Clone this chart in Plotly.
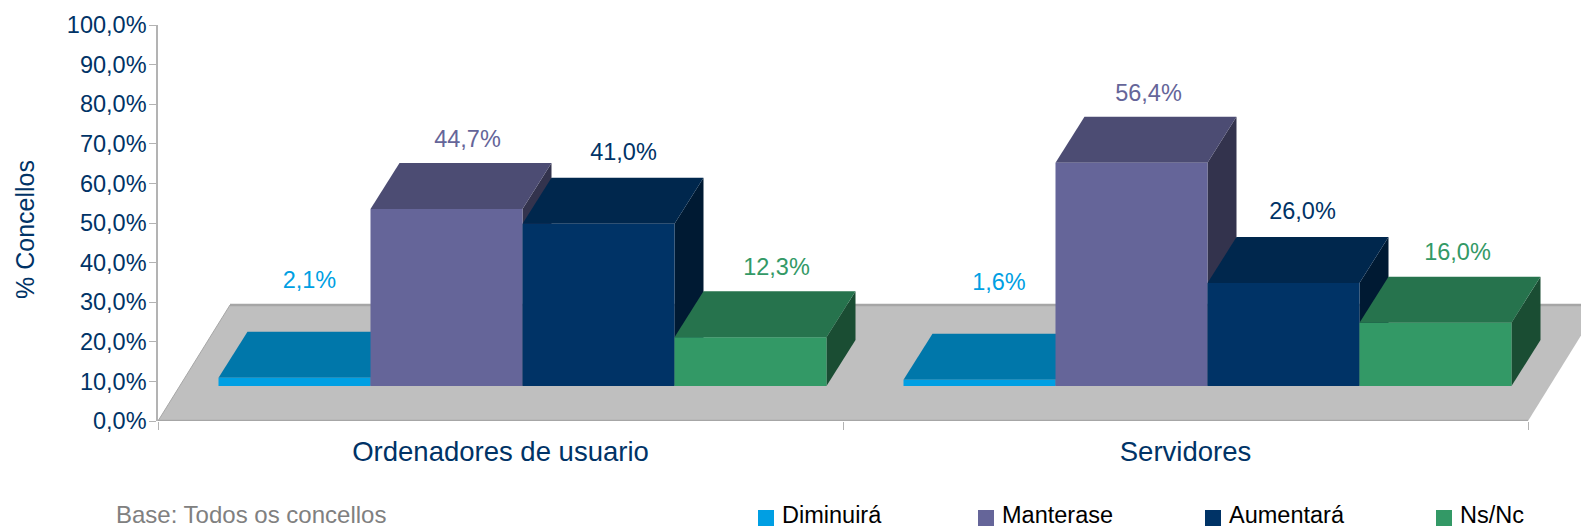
import plotly.graph_objects as go

# ---- data ----
categories = ["Ordenadores de usuario", "Servidores"]
series_names = ["Diminuirá", "Manterase", "Aumentará", "Ns/Nc"]
diminuira = [2.1, 1.6]
manterase = [44.7, 56.4]
aumentara = [41.0, 26.0]
ns_nc = [12.3, 16.0]
y_ticks = [0, 10, 20, 30, 40, 50, 60, 70, 80, 90, 100]
y_tick_labels = ["0,0%", "10,0%", "20,0%", "30,0%", "40,0%", "50,0%", "60,0%", "70,0%", "80,0%", "90,0%", "100,0%"]

# ---- style ----
front_colors = ["#009FE3", "#656599", "#003366", "#339966"]
top_colors = ["#0077AA", "#4C4C73", "#00274D", "#26734D"]
side_colors = ["#005F88", "#33334D", "#001A33", "#1A4D33"]
TEXT = "#003366"
FONT = "Liberation Sans"
W, H = 1581, 528
L, T, B = 158, 25, 107
PX_X = 685.0            # pixels per category
PX_Y = (H - T - B) / 100.0   # pixels per percentage point

BAR_W = 152 / PX_X
GROUP_OFF = 22 / PX_X   # front plane offset along the floor
BASE = 35 / PX_Y
DX, DY = 29 / PX_X, 46 / PX_Y          # bar depth
FLOOR_DX, FLOOR_DY = 72 / PX_X, 116 / PX_Y
label_dx = [[15, 21, 25, 26], [19.5, 17, 19, 22]]   # px
label_gap = [50, 22, 24, 22.5]                      # px above back edge

all_values = [diminuira, manterase, aumentara, ns_nc]
fig = go.Figure()


def px_x(p):
    return (p - L) / (W - L)


def px_y(p):
    return (H - B - p) / (H - T - B)


# floor
xmax = (W - L) / PX_X
fig.add_trace(go.Scatter(x=[0, 2, 2 + FLOOR_DX, FLOOR_DX, 0], y=[0, 0, FLOOR_DY, FLOOR_DY, 0],
                         mode="lines", fill="toself", fillcolor="#BFBFBF", line=dict(width=0),
                         hoverinfo="skip", showlegend=False))
fig.add_trace(go.Scatter(x=[0, 2, None, FLOOR_DX, 2 + FLOOR_DX], y=[0, 0, None, FLOOR_DY, FLOOR_DY],
                         mode="lines", line=dict(color="#A6A6A6", width=2.5),
                         hoverinfo="skip", showlegend=False, cliponaxis=False))
fig.add_trace(go.Scatter(x=[0, FLOOR_DX], y=[0, FLOOR_DY], mode="lines",
                         line=dict(color="#A6A6A6", width=1), hoverinfo="skip", showlegend=False))

# 3D faces, painted back to front, left to right
for g in range(len(categories)):
    for s, vals in enumerate(all_values):
        x0 = g + 0.5 + GROUP_OFF + (s - 2) * BAR_W
        x1 = x0 + BAR_W
        top = BASE + vals[g]
        fig.add_trace(go.Scatter(x=[x1, x1 + DX, x1 + DX, x1, x1], y=[BASE, BASE + DY, top + DY, top, BASE],
                                 mode="lines", fill="toself", fillcolor=side_colors[s], line=dict(width=0),
                                 hoverinfo="skip", showlegend=False))
        fig.add_trace(go.Scatter(x=[x0, x1, x1 + DX, x0 + DX, x0], y=[top, top, top + DY, top + DY, top],
                                 mode="lines", fill="toself", fillcolor=top_colors[s], line=dict(width=0),
                                 hoverinfo="skip", showlegend=False))

# front faces, on an overlaid pair of axes so that they paint above the faces
for s, vals in enumerate(all_values):
    xs = [g + 0.5 + GROUP_OFF + (s - 1.5) * BAR_W for g in range(len(categories))]
    fig.add_trace(go.Bar(x=xs, y=vals, base=[BASE] * len(vals), width=BAR_W, name=series_names[s],
                         marker=dict(color=front_colors[s], line=dict(width=0)),
                         xaxis="x2", yaxis="y2", showlegend=False))
    fig.add_trace(go.Scatter(
        x=[x + label_dx[g][s] / PX_X for g, x in enumerate(xs)],
        y=[BASE + v + DY + label_gap[s] / PX_Y for v in vals],
        text=[f"{v:.1f}%".replace(".", ",") for v in vals],
        mode="text", textposition="middle center", cliponaxis=False,
        textfont=dict(family=FONT, size=23.5, color=front_colors[s]),
        xaxis="x2", yaxis="y2", hoverinfo="skip", showlegend=False))

# legend and notes
annotations = [
    dict(text="% Concellos", xref="paper", yref="paper", x=px_x(25), y=px_y(230), xanchor="center",
         yanchor="middle", showarrow=False, textangle=-90, font=dict(family=FONT, size=25, color=TEXT)),
    dict(text="Base: Todos os concellos", xref="paper", yref="paper", x=px_x(114), y=px_y(514),
         xanchor="left", yanchor="middle", showarrow=False,
         font=dict(family=FONT, size=24, color="#808080")),
]
shapes = []
legend_px = [758, 978, 1205, 1436]
legend_text_px = [779.5, 999.5, 1226.5, 1457.5]
for s, name in enumerate(series_names):
    px = legend_px[s]
    shapes.append(dict(type="rect", xref="paper", yref="paper", layer="above", line=dict(width=0),
                       fillcolor=front_colors[s],
                       x0=px_x(px), x1=px_x(px + 16), y0=px_y(526), y1=px_y(510)))
    annotations.append(dict(text=name, xref="paper", yref="paper", x=px_x(legend_text_px[s]), y=px_y(514.5),
                            xanchor="left", yanchor="middle", showarrow=False,
                            font=dict(family=FONT, size=23.5, color="#000000")))

fig.update_layout(
    width=W, height=H, autosize=False, paper_bgcolor="white", plot_bgcolor="white",
    margin=dict(l=L, r=0, t=T, b=B), showlegend=False, barmode="overlay",
    font=dict(family=FONT, color=TEXT),
    annotations=annotations, shapes=shapes,
    xaxis=dict(range=[0, xmax], tickvals=[0.5, 1.5], ticktext=categories, ticks="", showgrid=False,
               zeroline=False, showline=False, ticklabelstandoff=11,
               tickfont=dict(family=FONT, size=27.5, color=TEXT),
               minor=dict(tickvals=[0, 1, 2], ticks="outside", ticklen=8, tickcolor="#B3B3B3", tickwidth=1)),
    yaxis=dict(range=[0, 100], tickvals=y_ticks, ticktext=y_tick_labels, ticks="outside", ticklen=7,
               tickcolor="#B3B3B3", tickwidth=1, showgrid=False, zeroline=False, showline=True,
               linecolor="#B3B3B3", linewidth=1.5, ticklabelstandoff=-2,
               tickfont=dict(family=FONT, size=23.5, color=TEXT)),
    xaxis2=dict(range=[0, xmax], overlaying="x", visible=False),
    yaxis2=dict(range=[0, 100], overlaying="y", visible=False),
)
fig.write_html("out.html", config=dict(displayModeBar=False),
               post_script="document.body.style.margin='0';")
